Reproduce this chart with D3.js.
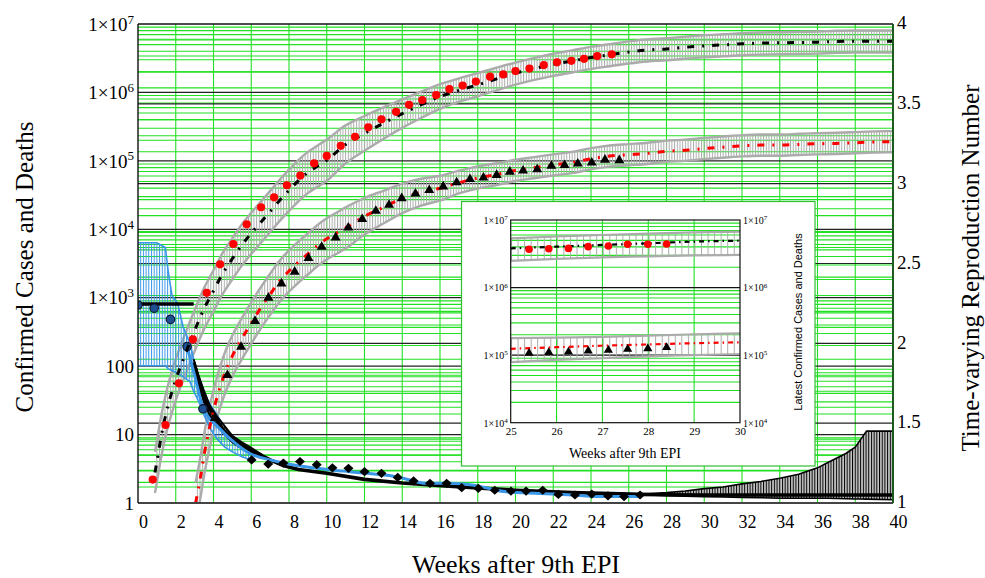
<!DOCTYPE html>
<html><head><meta charset="utf-8">
<script src="https://cdn.jsdelivr.net/npm/d3@7"></script>
<style>body{margin:0;background:#fff}svg{display:block}</style>
</head><body><svg id="c" width="985" height="578"></svg>
<script>
// ---------------- DATA ----------------
const xTicks = [0,2,4,6,8,10,12,14,16,18,20,22,24,26,28,30,32,34,36,38,40];
const yLeftTicks = [1,10,100,1e3,1e4,1e5,1e6,1e7];
const yRightTicks = [1,1.5,2,2.5,3,3.5,4];
const insetXTicks = [25,26,27,28,29,30];
const insetYTicks = [1e4,1e5,1e6,1e7];

// observed confirmed cases (red circles)
const casesWeeks = [0.78,1.46,2.17,2.91,3.64,4.35,5.05,5.76,6.52,7.21,7.89,8.6,9.33,10.0,10.74,11.5,12.2,12.9,13.67,14.36,15.06,15.8,16.5,17.2,17.9,18.65,19.35,20.0,20.74,21.5,22.2,22.96,23.63,24.33,25.1];
const casesObs = [2.2,13.8,56,246,1180,3080,6100,11800,21000,29300,44000,61000,92000,118000,166000,225000,309000,405000,520000,660000,775000,915000,1.12e6,1.26e6,1.44e6,1.70e6,1.83e6,2.05e6,2.23e6,2.51e6,2.75e6,2.9e6,3.1e6,3.4e6,3.6e6];

// observed deaths (black triangles)
const deathsWeeks = [4.07,4.74,5.46,6.20,6.91,7.6,8.3,9.03,9.73,10.47,11.14,11.88,12.6,13.3,13.97,14.7,15.43,16.17,16.88,17.59,18.3,19.0,19.7,20.4,21.15,21.9,22.6,23.3,24.04,24.74,25.5];
const deathsObs = [18,76,197,470,1030,1660,2470,3900,5700,7800,10900,14500,19100,23400,29300,34200,38400,43400,49900,55600,58700,64000,71300,74000,77500,87000,89000,94000,97000,107000,105000];

// model for cases (black dash-dot) and its error band ratios
const casesModelWeeks = [0.9,1,1.2,1.5,2,2.5,3,3.5,4,4.5,5,5.5,6,6.5,7,7.5,8,8.5,9,9.5,10,11,12,13,14,15,16,17,18,19,20,21,22,23,24,25,26,27,28,29,30,31,32,33,34,35,36,37,38,39,40];
const casesModel = [2.8,4.0,8.5,21,63,148,331,692,1259,2291,3715,5890,8710,12590,18200,26300,37150,51300,67600,83200,102300,173800,251200,354800,489800,660700,871000,1.07e6,1.29e6,1.58e6,1.91e6,2.24e6,2.57e6,2.88e6,3.24e6,3.55e6,3.89e6,4.17e6,4.32e6,4.57e6,4.79e6,4.95e6,5.13e6,5.25e6,5.31e6,5.37e6,5.43e6,5.56e6,5.62e6,5.62e6,5.62e6];
const casesBandUpperRatio = [2,2,2,2,2,2,2,2,2,2,2,2,2,2,2,2,2,2,2,2,2,1.9,1.8,1.7,1.62,1.56,1.52,1.5,1.48,1.46,1.43,1.43,1.43,1.43,1.43,1.43,1.43,1.43,1.43,1.43,1.43,1.43,1.43,1.43,1.43,1.43,1.43,1.43,1.43,1.43,1.43];
const casesBandLowerRatio = [0.5,0.5,0.5,0.5,0.5,0.5,0.5,0.5,0.5,0.5,0.5,0.5,0.5,0.5,0.5,0.5,0.5,0.5,0.5,0.5,0.5,0.53,0.56,0.59,0.62,0.64,0.66,0.68,0.68,0.68,0.68,0.68,0.68,0.68,0.68,0.68,0.68,0.68,0.68,0.68,0.68,0.68,0.68,0.68,0.68,0.68,0.68,0.68,0.68,0.68,0.68];

// model for deaths (red dashed) and its error band ratios
const deathsModelWeeks = [3.05,3.3,3.5,3.75,4,4.5,5,5.5,6,6.5,7,7.5,8,8.5,9,9.5,10,10.5,11,12,13,14,15,16,17,18,19,20,21,22,23,24,25,26,27,28,29,30,31,32,33,34,35,36,37,38,39,40];
const deathsModel = [1,2.3,5.0,11.2,22.4,66,141,251,427,708,1122,1738,2455,3311,4365,5754,7244,8710,10470,15490,20890,28180,34670,39810,47860,56230,63100,72440,79430,87100,94400,107200,117500,123000,128800,138000,142900,151400,158500,166000,169800,169800,173800,177800,179900,184100,188400,190500];
const deathsBandUpperRatio = [2,2,2,2,2,2,2,2,2,2,2,2,2,2,2,2,2,2,2,1.85,1.75,1.65,1.58,1.52,1.5,1.48,1.46,1.43,1.43,1.43,1.43,1.43,1.43,1.43,1.43,1.43,1.43,1.43,1.43,1.43,1.43,1.43,1.43,1.43,1.43,1.43,1.43,1.43];
const deathsBandLowerRatio = [0.5,0.5,0.5,0.5,0.5,0.5,0.5,0.5,0.5,0.5,0.5,0.5,0.5,0.5,0.5,0.5,0.5,0.5,0.5,0.54,0.58,0.61,0.64,0.66,0.7,0.7,0.7,0.7,0.7,0.7,0.7,0.7,0.7,0.7,0.7,0.7,0.7,0.7,0.7,0.7,0.7,0.7,0.7,0.7,0.7,0.7,0.7,0.7];

// time-varying reproduction number (right axis)
const rCircleWeeks = [0,0.86,1.72,2.6,3.44];
const rCircle = [2.24,2.22,2.15,1.98,1.59];
const rDiamondWeeks = [6.02,6.9,7.7,8.58,9.47,10.3,11.15,12.0,12.9,13.76,14.6,15.47,16.35,17.15,18.03,18.9,19.76,20.56,21.44,22.27,23.15,24.04,24.9,25.75,26.6];
const rDiamond = [1.27,1.244,1.25,1.26,1.24,1.22,1.217,1.196,1.186,1.16,1.138,1.123,1.123,1.096,1.092,1.08,1.075,1.075,1.08,1.054,1.05,1.056,1.044,1.04,1.05];
const rEstWeeks = [2.6,3.0,3.44,4.3,5.2,5.93,7.0,7.7,10,11.2,12.1,13.7,15.3,16.5,17.7,19.5,21.3,23,24.8,26.7];
const rEst = [1.98,1.8,1.6,1.47,1.37,1.31,1.27,1.25,1.21,1.196,1.186,1.165,1.123,1.123,1.113,1.07,1.06,1.05,1.04,1.04];
const rEstBandWeeks = [0,1.0,1.45,1.6,1.8,2.1,2.4,2.75,2.95,3.2,3.5,3.8,4.2,4.6,5.0,5.5,6.0];
const rEstLower = [1.86,1.86,1.86,1.84,1.83,1.81,1.79,1.76,1.7,1.64,1.55,1.47,1.4,1.35,1.32,1.29,1.27];
const rEstUpper = [2.63,2.63,2.6,2.45,2.3,2.25,2.1,2.0,1.9,1.8,1.7,1.62,1.55,1.47,1.42,1.37,1.34];
const rModelPhase1Weeks = [0,2.95];
const rModelPhase1 = [2.246,2.246];
const rModelWeeks = [2.95,3.2,3.5,3.8,4.1,4.5,5.0,5.5,6.0,6.5,7.0,7.7,8.5,10,12,14,16.5,20,23,26.6,28,30,32,34,36,38,40];
const rModel = [1.88,1.78,1.67,1.59,1.53,1.46,1.4,1.36,1.33,1.3,1.27,1.235,1.21,1.186,1.148,1.125,1.105,1.08,1.065,1.054,1.052,1.05,1.05,1.05,1.05,1.05,1.05];
const rBandEarlyWeeks = [2.95,3.2,3.5,3.8,4.2,4.6,5.0,5.5,6.0,6.6];
const rBandEarlyLower = [1.84,1.74,1.63,1.55,1.48,1.43,1.38,1.34,1.31,1.28];
const rBandEarlyUpper = [1.90,1.80,1.70,1.61,1.54,1.48,1.42,1.38,1.345,1.3];
const rBandLateWeeks = [26.6,27,28,29,30,31,32,33,34,35,36,36.5,37,37.5,38,38.3,38.6,40];
const rBandLateLower = [1.05,1.05,1.045,1.042,1.04,1.038,1.035,1.033,1.03,1.03,1.03,1.03,1.028,1.027,1.025,1.025,1.024,1.02];
const rBandLateUpper = [1.055,1.058,1.065,1.075,1.09,1.1,1.12,1.135,1.155,1.18,1.22,1.25,1.28,1.31,1.35,1.4,1.45,1.45];

// inset: latest weeks
const insetObsWeeks = [25.4,25.83,26.26,26.69,27.13,27.55,27.99,28.4];
const insetCasesObs = [3.69e6,3.76e6,3.8e6,4.03e6,4.12e6,4.37e6,4.37e6,4.42e6];
const insetDeathsObs = [1.10e5,1.13e5,1.15e5,1.19e5,1.22e5,1.26e5,1.29e5,1.34e5];
const insetModelWeeks = [25,26,27,28,29,30];
const insetCasesModel = [3.8e6,4.03e6,4.27e6,4.52e6,4.79e6,4.94e6];
const insetCasesUpper = [5.36e6,5.7e6,6.0e6,6.3e6,6.55e6,6.7e6];
const insetCasesLower = [2.48e6,2.65e6,2.8e6,2.9e6,3.0e6,3.04e6];
const insetDeathsModel = [1.24e5,1.31e5,1.38e5,1.44e5,1.5e5,1.55e5];
const insetDeathsUpper = [1.78e5,1.82e5,1.86e5,1.95e5,2.03e5,2.1e5];
const insetDeathsLower = [7.9e4,8.5e4,9.0e4,9.6e4,1.0e5,1.04e5];

// ---------------- DRAW ----------------
const SERIF = '"Liberation Serif","Times New Roman",serif';
const SANS = '"Liberation Sans",Arial,sans-serif';
const GREEN = "#22e022";
const GRAY = "#ababab";
const BLUE = "#3a96e6";
const svg = d3.select("#c");
const L = 138, R = 893, T = 24, B = 503;
const x = d3.scaleLinear().domain([0, 40]).range([L, R]);
const yL = d3.scaleLog().domain([1, 1e7]).range([B, T]);
const yR = d3.scaleLinear().domain([1, 4]).range([B, T]);

const defs = svg.append("defs");
defs.append("clipPath").attr("id", "clipMain").append("rect")
  .attr("x", L).attr("y", T).attr("width", R - L).attr("height", B - T);
function hatch(id, step, color, bg) {
  const p = defs.append("pattern").attr("id", id).attr("patternUnits", "userSpaceOnUse")
    .attr("width", step).attr("height", 10);
  if (bg) p.append("rect").attr("width", step).attr("height", 10).attr("fill", bg);
  p.append("line").attr("x1", 0.5).attr("x2", 0.5).attr("y1", 0).attr("y2", 10)
    .attr("stroke", color).attr("stroke-width", 1);
}
const dayStep = (x(40) - x(0)) / 280;
hatch("hGray", dayStep, GRAY);
hatch("hBlue", dayStep, BLUE);
hatch("hBlack", dayStep, "#000", "#c4c4c4");

const isPow = v => Math.abs(Math.log10(v) - Math.round(Math.log10(v))) < 1e-9;
const isHalf = v => Math.abs(v * 2 - Math.round(v * 2)) < 1e-9;

// grid
const gGrid = svg.append("g");
const logT = yL.ticks().filter(v => v > 1 && v < 1e7);
const rT = yR.ticks(30).filter(v => v > 1 && v < 4);
const hLine = (g, y0, x0, x1, c, w) => g.append("line").attr("x1", x0).attr("x2", x1).attr("y1", y0).attr("y2", y0).attr("stroke", c).attr("stroke-width", w);
logT.filter(v => !isPow(v)).forEach(v => hLine(gGrid, yL(v), L, R, GREEN, 1.1));
rT.filter(v => !isHalf(v)).forEach(v => hLine(gGrid, yR(v), L, R, GREEN, 1.1));
xTicks.filter(v => v > 0 && v < 40).forEach(v => gGrid.append("line")
  .attr("x1", x(v)).attr("x2", x(v)).attr("y1", T).attr("y2", B).attr("stroke", GREEN).attr("stroke-width", 1.1));
logT.filter(isPow).forEach(v => hLine(gGrid, yL(v), L, R, "#222", 1.2));
rT.filter(isHalf).forEach(v => hLine(gGrid, yR(v), L, R, "#222", 1.2));

const gMain = svg.append("g").attr("clip-path", "url(#clipMain)");

function bandData(ws, m, up, lo) { return ws.map((w, i) => ({ w, hi: m[i] * up[i], lo: m[i] * lo[i] })); }
function drawBand(g, data, xs, ys, fillId, edge, ew, curve) {
  const area = d3.area().x(d => xs(d.w)).y0(d => ys(d.lo)).y1(d => ys(d.hi)).curve(curve);
  g.append("path").attr("d", area(data)).attr("fill", `url(#${fillId})`);
  const lhi = d3.line().x(d => xs(d.w)).y(d => ys(d.hi)).curve(curve);
  const llo = d3.line().x(d => xs(d.w)).y(d => ys(d.lo)).curve(curve);
  g.append("path").attr("d", lhi(data)).attr("fill", "none").attr("stroke", edge).attr("stroke-width", ew);
  g.append("path").attr("d", llo(data)).attr("fill", "none").attr("stroke", edge).attr("stroke-width", ew);
}
const mono = d3.curveMonotoneX;

// gray error bands
drawBand(gMain, bandData(casesModelWeeks, casesModel, casesBandUpperRatio, casesBandLowerRatio), x, yL, "hGray", GRAY, 2.4, mono);
drawBand(gMain, bandData(deathsModelWeeks, deathsModel, deathsBandUpperRatio, deathsBandLowerRatio), x, yL, "hGray", GRAY, 2.4, mono);

// R bands
drawBand(gMain, rBandLateWeeks.map((w, i) => ({ w, lo: rBandLateLower[i], hi: rBandLateUpper[i] })), x, yR, "hBlack", "#000", 1.6, d3.curveLinear);
drawBand(gMain, rEstBandWeeks.map((w, i) => ({ w, lo: rEstLower[i], hi: rEstUpper[i] })), x, yR, "hBlue", BLUE, 1.6, d3.curveLinear);
drawBand(gMain, rBandEarlyWeeks.map((w, i) => ({ w, lo: rBandEarlyLower[i], hi: rBandEarlyUpper[i] })), x, yR, "hBlack", "#000", 2, d3.curveLinear);

// R model line (black) and R estimate (blue)
const lineR = d3.line().x(d => x(d[0])).y(d => yR(d[1]));
gMain.append("path").attr("d", lineR(d3.zip(rModelPhase1Weeks, rModelPhase1)))
  .attr("fill", "none").attr("stroke", "#000").attr("stroke-width", 3.4);
gMain.append("path").attr("d", lineR(d3.zip(rModelWeeks, rModel)))
  .attr("fill", "none").attr("stroke", "#000").attr("stroke-width", 3.6);
gMain.append("path").attr("d", lineR.curve(d3.curveMonotoneX)(d3.zip(rEstWeeks, rEst)))
  .attr("fill", "none").attr("stroke", BLUE).attr("stroke-width", 3);

// diamonds and circles (R)
const diamond = "M0,-4.6L5,0L0,4.6L-5,0Z";
gMain.selectAll(".dia").data(d3.zip(rDiamondWeeks, rDiamond)).join("path")
  .attr("d", diamond).attr("transform", d => `translate(${x(d[0])},${yR(d[1])})`).attr("fill", "#000");
gMain.selectAll(".rc").data(d3.zip(rCircleWeeks, rCircle)).join("circle")
  .attr("cx", d => x(d[0])).attr("cy", d => yR(d[1])).attr("r", 4.2)
  .attr("fill", "#1d4f91").attr("stroke", "#0b1830").attr("stroke-width", 1.2);

// model lines
const lineL = d3.line().x(d => x(d[0])).y(d => yL(d[1])).curve(mono);
gMain.append("path").attr("d", lineL(d3.zip(casesModelWeeks, casesModel)))
  .attr("fill", "none").attr("stroke", "#000").attr("stroke-width", 3).attr("stroke-dasharray", "7,8,2,8");
gMain.append("path").attr("d", lineL(d3.zip(deathsModelWeeks, deathsModel)))
  .attr("fill", "none").attr("stroke", "#ff0000").attr("stroke-width", 3).attr("stroke-dasharray", "7,8,2,8");

// observed markers
gMain.selectAll(".cc").data(d3.zip(casesWeeks, casesObs)).join("circle")
  .attr("cx", d => x(d[0])).attr("cy", d => yL(d[1])).attr("r", 4.1).attr("fill", "#ff0000");
const tri = "M0,-4.8L5,3.8L-5,3.8Z";
gMain.selectAll(".tr").data(d3.zip(deathsWeeks, deathsObs)).join("path")
  .attr("d", tri).attr("transform", d => `translate(${x(d[0])},${yL(d[1])})`).attr("fill", "#000");

// frame
svg.append("line").attr("x1", L).attr("x2", R).attr("y1", T).attr("y2", T).attr("stroke", "#111").attr("stroke-width", 1.4);
svg.append("line").attr("x1", L).attr("x2", R).attr("y1", B).attr("y2", B).attr("stroke", "#444").attr("stroke-width", 2);
svg.append("line").attr("x1", L).attr("x2", L).attr("y1", T).attr("y2", B).attr("stroke", "#111").attr("stroke-width", 1.4);
svg.append("line").attr("x1", R).attr("x2", R).attr("y1", T).attr("y2", B).attr("stroke", "#1d5a1d").attr("stroke-width", 2);

// axes
const gx = svg.append("g").attr("transform", `translate(0,${B})`)
  .call(d3.axisBottom(x).tickValues(xTicks).tickSize(0).tickPadding(12).tickFormat(d3.format("d")));
gx.select(".domain").remove();
gx.selectAll("text").attr("font-family", SERIF).attr("font-size", 18).attr("fill", "#000").attr("dx", 5);

const gl = svg.append("g").attr("transform", `translate(${L},0)`)
  .call(d3.axisLeft(yL).tickValues(yLeftTicks).tickSize(0).tickPadding(4).tickFormat(""));
gl.select(".domain").remove();
gl.selectAll(".tick text").each(function (d) {
  const t = d3.select(this).attr("font-family", SERIF).attr("font-size", 19).attr("fill", "#000").attr("dy", "0.33em");
  const e = Math.round(Math.log10(d));
  if (e < 3) t.text(String(d));
  else { t.append("tspan").text("1\u00d710"); t.append("tspan").attr("dy", "-0.55em").attr("font-size", 13).text(e); }
});

const gr = svg.append("g").attr("transform", `translate(${R},0)`)
  .call(d3.axisRight(yR).tickValues(yRightTicks).tickSize(0).tickPadding(4).tickFormat(d => String(d)));
gr.select(".domain").remove();
gr.selectAll("text").attr("font-family", SERIF).attr("font-size", 19).attr("fill", "#000").attr("dy", "0.25em");

// titles
svg.append("text").attr("transform", "translate(33,267) rotate(-90)").attr("text-anchor", "middle")
  .attr("font-family", SERIF).attr("font-size", 25).text("Confirmed Cases and Deaths");
svg.append("text").attr("transform", "translate(979,268) rotate(-90)").attr("text-anchor", "middle")
  .attr("font-family", SERIF).attr("font-size", 25).text("Time-varying Reproduction Number");
svg.append("text").attr("x", 516).attr("y", 573).attr("text-anchor", "middle")
  .attr("font-family", SERIF).attr("font-size", 26).text("Weeks after 9th EPI");

// ---------------- INSET ----------------
const iL = 510.7, iR = 740, iT = 220, iB = 422.7;
const xi = d3.scaleLinear().domain([25, 30]).range([iL, iR]);
const yi = d3.scaleLog().domain([1e4, 1e7]).range([iB, iT]);
const gIn = svg.append("g");
gIn.append("rect").attr("x", 461.5).attr("y", 201.5).attr("width", 353.5).attr("height", 264.5)
  .attr("fill", "#fff").attr("stroke", "#2fc02f").attr("stroke-width", 1.2);
defs.append("clipPath").attr("id", "clipIn").append("rect")
  .attr("x", iL).attr("y", iT).attr("width", iR - iL).attr("height", iB - iT);
const iStep = (xi(30) - xi(25)) / 35;
hatch("hGrayIn", iStep, GRAY);
const iLog = yi.ticks().filter(v => v > 1e4 && v < 1e7);
iLog.filter(v => !isPow(v)).forEach(v => hLine(gIn, yi(v), iL, iR, GREEN, 1.1));
insetXTicks.filter(v => v > 25 && v < 30).forEach(v => gIn.append("line")
  .attr("x1", xi(v)).attr("x2", xi(v)).attr("y1", iT).attr("y2", iB).attr("stroke", GREEN).attr("stroke-width", 1.1));
iLog.filter(isPow).forEach(v => hLine(gIn, yi(v), iL, iR, "#111", 1.2));
const gInC = gIn.append("g").attr("clip-path", "url(#clipIn)");
drawBand(gInC, insetModelWeeks.map((w, i) => ({ w, lo: insetCasesLower[i], hi: insetCasesUpper[i] })), xi, yi, "hGrayIn", GRAY, 2.2, mono);
drawBand(gInC, insetModelWeeks.map((w, i) => ({ w, lo: insetDeathsLower[i], hi: insetDeathsUpper[i] })), xi, yi, "hGrayIn", GRAY, 2.2, mono);
const lineI = d3.line().x(d => xi(d[0])).y(d => yi(d[1])).curve(mono);
gInC.append("path").attr("d", lineI(d3.zip(insetModelWeeks, insetCasesModel)))
  .attr("fill", "none").attr("stroke", "#000").attr("stroke-width", 2.2).attr("stroke-dasharray", "5,4,1.5,4");
gInC.append("path").attr("d", lineI(d3.zip(insetModelWeeks, insetDeathsModel)))
  .attr("fill", "none").attr("stroke", "#ff0000").attr("stroke-width", 2.2).attr("stroke-dasharray", "5,4,1.5,4");
gInC.selectAll(".ic").data(d3.zip(insetObsWeeks, insetCasesObs)).join("circle")
  .attr("cx", d => xi(d[0])).attr("cy", d => yi(d[1])).attr("r", 3.8).attr("fill", "#ff0000");
gInC.selectAll(".it").data(d3.zip(insetObsWeeks, insetDeathsObs)).join("path")
  .attr("d", "M0,-4.3L4.6,3.5L-4.6,3.5Z").attr("transform", d => `translate(${xi(d[0])},${yi(d[1])})`).attr("fill", "#000");
gIn.append("rect").attr("x", iL).attr("y", iT).attr("width", iR - iL).attr("height", iB - iT)
  .attr("fill", "none").attr("stroke", "#111").attr("stroke-width", 1.2);

const gix = gIn.append("g").attr("transform", `translate(0,${iB})`)
  .call(d3.axisBottom(xi).tickValues(insetXTicks).tickSize(0).tickPadding(5).tickFormat(d3.format("d")));
gix.select(".domain").remove();
gix.selectAll("text").attr("font-family", SERIF).attr("font-size", 11).attr("fill", "#000");
function supLabels(sel) {
  sel.selectAll(".tick text").each(function (d) {
    const t = d3.select(this).attr("font-family", SERIF).attr("font-size", 10).attr("fill", "#000").attr("dy", "0.33em");
    t.append("tspan").text("1\u00d710");
    t.append("tspan").attr("dy", "-0.55em").attr("font-size", 7).text(Math.round(Math.log10(d)));
  });
}
const giy = gIn.append("g").attr("transform", `translate(${iL},0)`)
  .call(d3.axisLeft(yi).tickValues(insetYTicks).tickSize(0).tickPadding(3).tickFormat(""));
giy.select(".domain").remove(); supLabels(giy);
const giy2 = gIn.append("g").attr("transform", `translate(${iR},0)`)
  .call(d3.axisRight(yi).tickValues(insetYTicks).tickSize(0).tickPadding(3).tickFormat(""));
giy2.select(".domain").remove(); supLabels(giy2);
gIn.append("text").attr("x", 625).attr("y", 458).attr("text-anchor", "middle")
  .attr("font-family", SERIF).attr("font-size", 14).text("Weeks after 9th EPI");
gIn.append("text").attr("transform", "translate(802,322) rotate(-90)").attr("text-anchor", "middle")
  .attr("font-family", SANS).attr("font-size", 11).text("Latest Confirmed Cases and Deaths");
</script></body></html>
